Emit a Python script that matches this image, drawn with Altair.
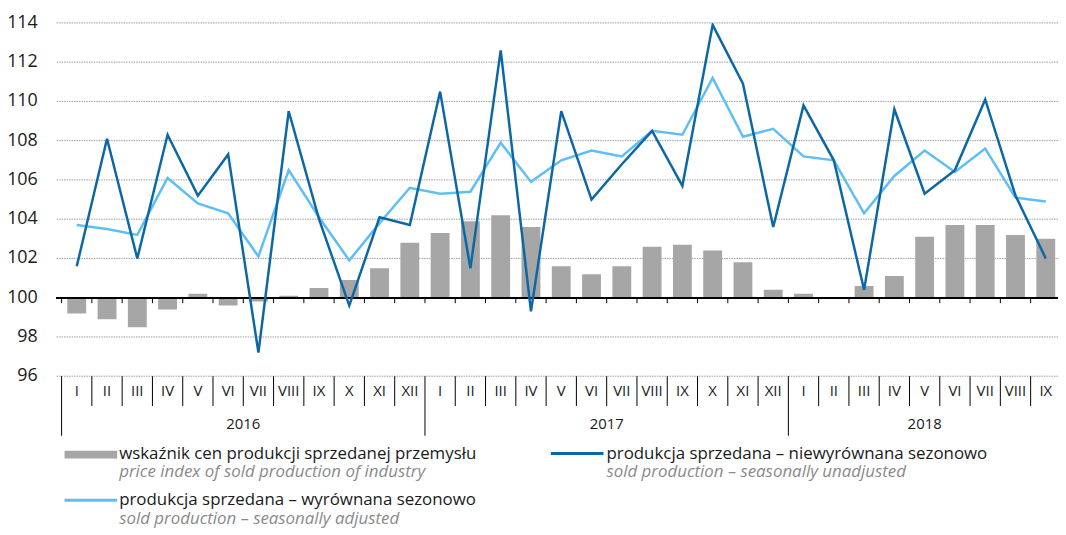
import altair as alt
import pandas as pd

# ---------------- data ----------------
months = ["I", "II", "III", "IV", "V", "VI", "VII", "VIII", "IX", "X", "XI", "XII"] * 2 + \
         ["I", "II", "III", "IV", "V", "VI", "VII", "VIII", "IX"]
years = ["2016"] * 12 + ["2017"] * 12 + ["2018"] * 9
year_labels = ["2016", "2017", "2018"]
y_ticks = [96, 98, 100, 102, 104, 106, 108, 110, 112, 114]

price_index = [99.2, 98.9, 98.5, 99.4, 100.2, 99.6, 99.8, 100.1, 100.5, 100.9, 101.5, 102.8,
               103.3, 103.9, 104.2, 103.6, 101.6, 101.2, 101.6, 102.6, 102.7, 102.4, 101.8, 100.4,
               100.2, 100.0, 100.6, 101.1, 103.1, 103.7, 103.7, 103.2, 103.0]
unadjusted = [101.6, 108.1, 102.0, 108.3, 105.2, 107.3, 97.2, 109.5, 104.0, 99.6, 104.1, 103.7,
              110.5, 101.5, 112.6, 99.3, 109.5, 105.0, 106.8, 108.5, 105.7, 113.9, 110.9, 103.6,
              109.8, 107.0, 100.4, 109.6, 105.3, 106.5, 110.1, 105.2, 102.0]
adjusted = [103.7, 103.5, 103.2, 106.1, 104.8, 104.3, 102.1, 106.5, 104.1, 101.9, 103.8, 105.6,
            105.3, 105.4, 107.9, 105.9, 107.0, 107.5, 107.2, 108.5, 108.3, 111.2, 108.2, 108.6,
            107.2, 107.0, 104.3, 106.2, 107.5, 106.4, 107.6, 105.1, 104.9]

legend_pl = ["wskaźnik cen produkcji sprzedanej przemysłu",
             "produkcja sprzedana – niewyrównana sezonowo",
             "produkcja sprzedana – wyrównana sezonowo"]
legend_en = ["price index of sold production of industry",
             "sold production – seasonally unadjusted",
             "sold production – seasonally adjusted"]

# ---------------- styling ----------------
FONT = "Open Sans"
C_BAR = "#a6a6a6"
C_DARK = "#0b67a5"
C_LIGHT = "#5ebff7"
C_TEXT = "#1a1a1a"
C_SUB = "#8a8a8a"
W, H = 1009, 356

n = len(months)
df = pd.DataFrame({
    "idx": list(range(n)),
    "month": months,
    "year": years,
    "price": price_index,
    "unadj": unadjusted,
    "adj": adjusted,
})

bounds = pd.DataFrame({
    "b": [i - 0.5 for i in range(n)],
    "is_year": [m == "I" for m in months],
})

ydf = pd.DataFrame({"year": year_labels})
ydf["center"] = [df.loc[df.year == y, "idx"].mean() for y in year_labels]

tdf = pd.DataFrame({"v": y_ticks, "lab": [str(v) for v in y_ticks]})
gdf = pd.DataFrame({"g": [v for v in y_ticks if v != 100]})

xscale = alt.Scale(domain=[-0.5, 32.24], nice=False, zero=False)
yscale = alt.Scale(domain=[96, 114], nice=False, zero=False)

hidden_axis = alt.Axis(labels=False, ticks=False, domain=False, grid=False, title="")

X = alt.X("idx:Q", scale=xscale, axis=None)


def Y(field, axis=None):
    return alt.Y(field, scale=yscale, axis=axis, title=None)


grid = alt.Chart(gdf).mark_rule(color="#9c9c9c", strokeWidth=1, strokeDash=[1.5, 1]).encode(
    y=Y("g:Q", hidden_axis))

ylabels = alt.Chart(tdf).mark_text(font=FONT, fontSize=18, color=C_TEXT, align="right",
                                   baseline="middle").encode(
    x=alt.value(-19), y=Y("v:Q"), text="lab:N")

bars = alt.Chart(df).mark_bar(size=19, color=C_BAR, clip=True).encode(
    x=X, y=Y("price:Q"), y2=alt.datum(100),
)

base_line = alt.Chart(df).mark_rule(color="#000000", strokeWidth=1.5).encode(
    y=alt.datum(100))

ticks100 = alt.Chart(bounds).mark_rule(color="#000000", strokeWidth=1).encode(
    x=alt.X("b:Q", scale=xscale, axis=None),
    y=alt.datum(100),
    y2=alt.datum(99.72),
)

line_adj = alt.Chart(df).mark_line(color=C_LIGHT, strokeWidth=2.5, clip=True).encode(
    x=X, y=Y("adj:Q")
)
line_unadj = alt.Chart(df).mark_line(color=C_DARK, strokeWidth=2.5, clip=True).encode(
    x=X, y=Y("unadj:Q")
)

month_sep = alt.Chart(bounds).transform_filter("!datum.is_year").mark_rule(
    color="#000000", strokeWidth=1).encode(
    x=alt.X("b:Q", scale=xscale, axis=None),
    y=alt.value(H), y2=alt.value(H + 30),
)
year_sep = alt.Chart(bounds).transform_filter("datum.is_year").mark_rule(
    color="#000000", strokeWidth=1).encode(
    x=alt.X("b:Q", scale=xscale, axis=None),
    y=alt.value(H), y2=alt.value(H + 60),
)

month_text = alt.Chart(df).mark_text(font=FONT, fontSize=15, color=C_TEXT,
                                     baseline="middle", align="center").encode(
    x=X, y=alt.value(H + 15), text="month:N"
)
year_text = alt.Chart(ydf).mark_text(font=FONT, fontSize=15, color=C_TEXT,
                                     baseline="middle", align="center").encode(
    x=alt.X("center:Q", scale=xscale, axis=None), y=alt.value(H + 48), text="year:N"
)

# ---------------- legend ----------------
leg_pos = [(63, 434), (554, 434), (63, 481)]  # text anchor (x, y) relative to plot origin


def legend_text(i):
    d = pd.DataFrame({"pl": [legend_pl[i]], "en": [legend_en[i]]})
    x0, y0 = leg_pos[i]
    t1 = alt.Chart(d).mark_text(font=FONT, fontSize=17, color=C_TEXT, align="left",
                                baseline="middle").encode(
        x=alt.value(x0), y=alt.value(y0), text="pl:N")
    t2 = alt.Chart(d).mark_text(font=FONT, fontSize=17, color=C_SUB, align="left",
                                baseline="middle", fontStyle="italic").encode(
        x=alt.value(x0), y=alt.value(y0 + 19), text="en:N")
    return t1 + t2


one = pd.DataFrame({"k": [0]})
sym_bar = alt.Chart(one).mark_rect(color=C_BAR).encode(
    x=alt.value(8), x2=alt.value(61), y=alt.value(431), y2=alt.value(439))
sym_dark = alt.Chart(one).mark_rule(color=C_DARK, strokeWidth=3).encode(
    x=alt.value(498), x2=alt.value(551), y=alt.value(434))
sym_light = alt.Chart(one).mark_rule(color=C_LIGHT, strokeWidth=3).encode(
    x=alt.value(8), x2=alt.value(61), y=alt.value(481))

chart = alt.layer(
    grid, ylabels, bars, base_line, ticks100, line_adj, line_unadj,
    month_sep, year_sep, month_text, year_text,
    sym_bar, sym_dark, sym_light,
    legend_text(0), legend_text(1), legend_text(2),
).properties(
    width=W, height=H,
    autosize=alt.AutoSizeParams(type="none"),
    padding={"left": 49, "top": 13, "right": 0, "bottom": 158},
).configure(background="white").configure_view(stroke=None)

chart.save("out.html", embed_options={"renderer": "svg", "actions": False})
